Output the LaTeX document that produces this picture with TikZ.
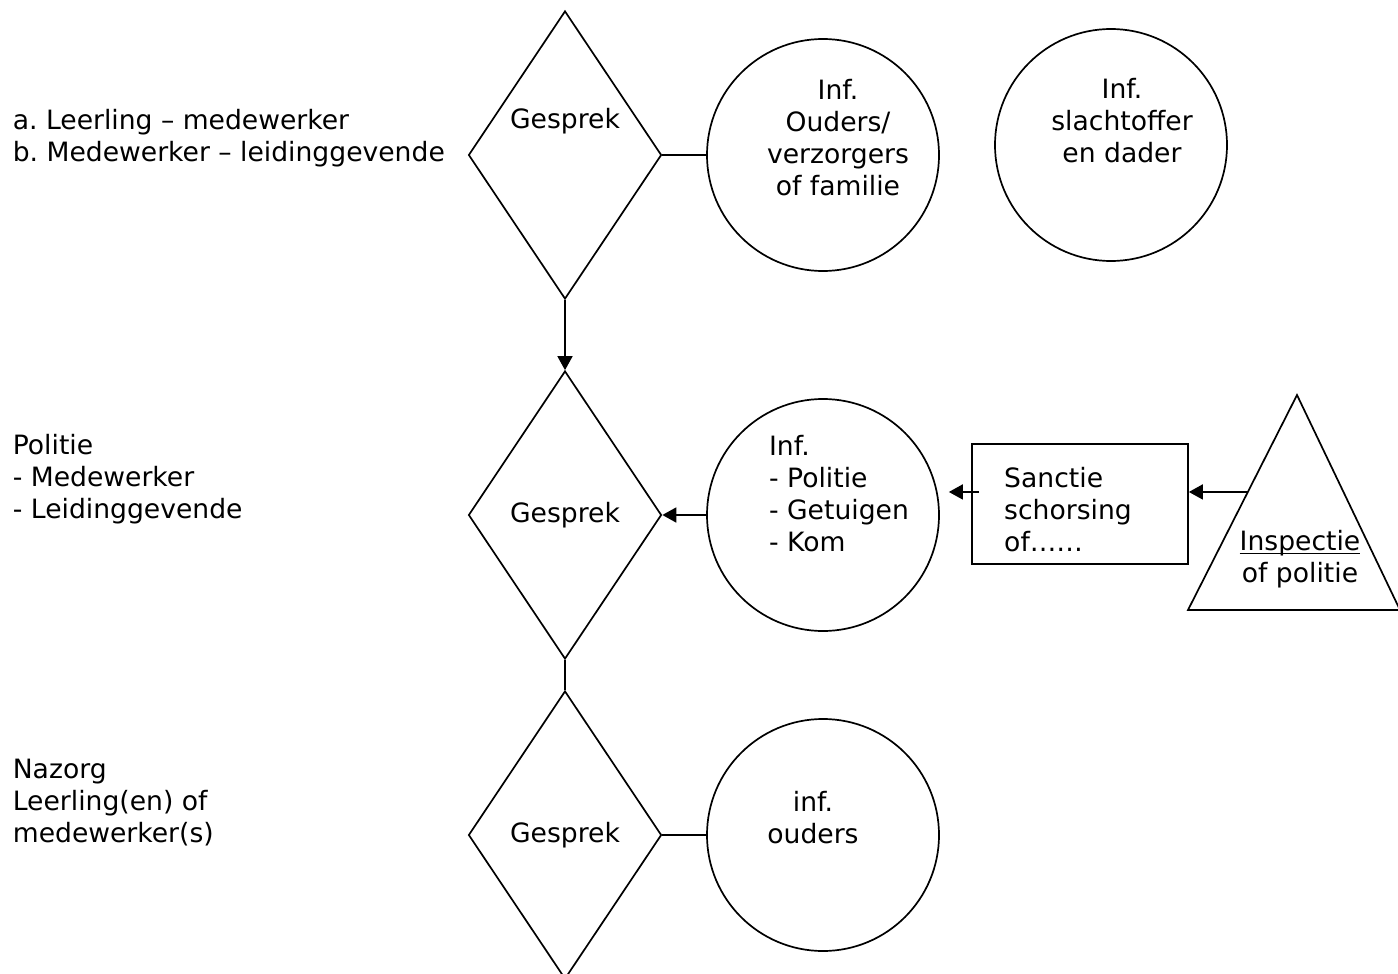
\documentclass[tikz,border=0pt]{standalone}
\usepackage{fontspec}
\setmainfont{DejaVu Sans}
\usetikzlibrary{shapes.geometric,arrows.meta,calc}
\frenchspacing

\begin{document}
\begin{tikzpicture}[x=0.5pt,y=-0.5pt,line width=0.85pt,
    every node/.style={font=\fontsize{13.3pt}{16pt}\selectfont},
    gesprek/.style={draw,diamond,minimum width=96.5pt,minimum height=144pt,inner sep=0pt},
    info/.style={draw,circle,minimum size=116pt,inner sep=0pt},
    pijl/.style={-{Triangle[length=7pt,width=7.5pt]}},
    kant/.style={anchor=west,align=left,inner sep=0pt}]
    \useasboundingbox (0,0) rectangle (1398,974);

    % Left column
    \node[kant] (fase1) at (12,138) {a. Leerling – medewerker\\b. Medewerker – leidinggevende};
    \node[kant] (fase2) at (12,479) {Politie\\- Medewerker\\- Leidinggevende};
    \node[kant] (fase3) at (12,803) {Nazorg\\Leerling(en) of\\medewerker(s)};

    % Conversations
    \node[gesprek, label={[yshift=17pt]center:Gesprek}] (gesprek1) at (565,155) {};
    \node[gesprek] (gesprek2) at (565,515) {Gesprek};
    \node[gesprek] (gesprek3) at (565,835) {Gesprek};

    % Information circles
    \node[info, label={[xshift=7.5pt,yshift=8.75pt,align=center]center:Inf.\\Ouders/\\verzorgers\\of familie}] (ouders) at (823,155) {};
    \node[info, label={[xshift=5.5pt,yshift=12pt,align=center]center:Inf.\\slachtoffer\\en dader}] (slachtoffer) at (1111,145) {};
    \node[info, label={[xshift=8pt,yshift=10.5pt,align=left]center:Inf.\\- Politie\\- Getuigen\\- Kom}] (politie) at (823,515) {};
    \node[info, label={[xshift=-5pt,yshift=8.5pt,align=center]center:inf.\\ouders}] (nazorg) at (823,835) {};

    % Sanction and inspection
    \node[draw, minimum width=108pt, minimum height=60pt, inner sep=0pt,
        label={[xshift=-6pt,yshift=-3pt,align=left]center:Sanctie\\schorsing\\of……}] (sanctie) at (1080,504) {};
    \draw (1188,610) coordinate (basisL) -- (1297,395) coordinate (top)
        -- (1400,610) coordinate (basisR) -- cycle;
    \node[align=center] (inspectie) at (1300,560) {\underline{\smash{Inspectie}}\vphantom{Ip}\\of politie};
    \coordinate (zijde) at ($(basisL)!0.549!(top)$);

    % Connectors
    \draw[pijl] (gesprek1.south) -- (gesprek2.north);
    \draw (gesprek2.south) -- (gesprek3.north);
    \draw (gesprek1.east) -- (ouders.west);
    \draw (gesprek3.east) -- (nazorg.west);
    \draw[pijl] (politie.west) -- (gesprek2.east);
    \draw[pijl] (zijde) -- (zijde -| sanctie.east);
    \draw[pijl, shorten >=4.5pt] ([xshift=4pt]zijde -| sanctie.west) -- (zijde -| politie.east);
\end{tikzpicture}
\end{document}
